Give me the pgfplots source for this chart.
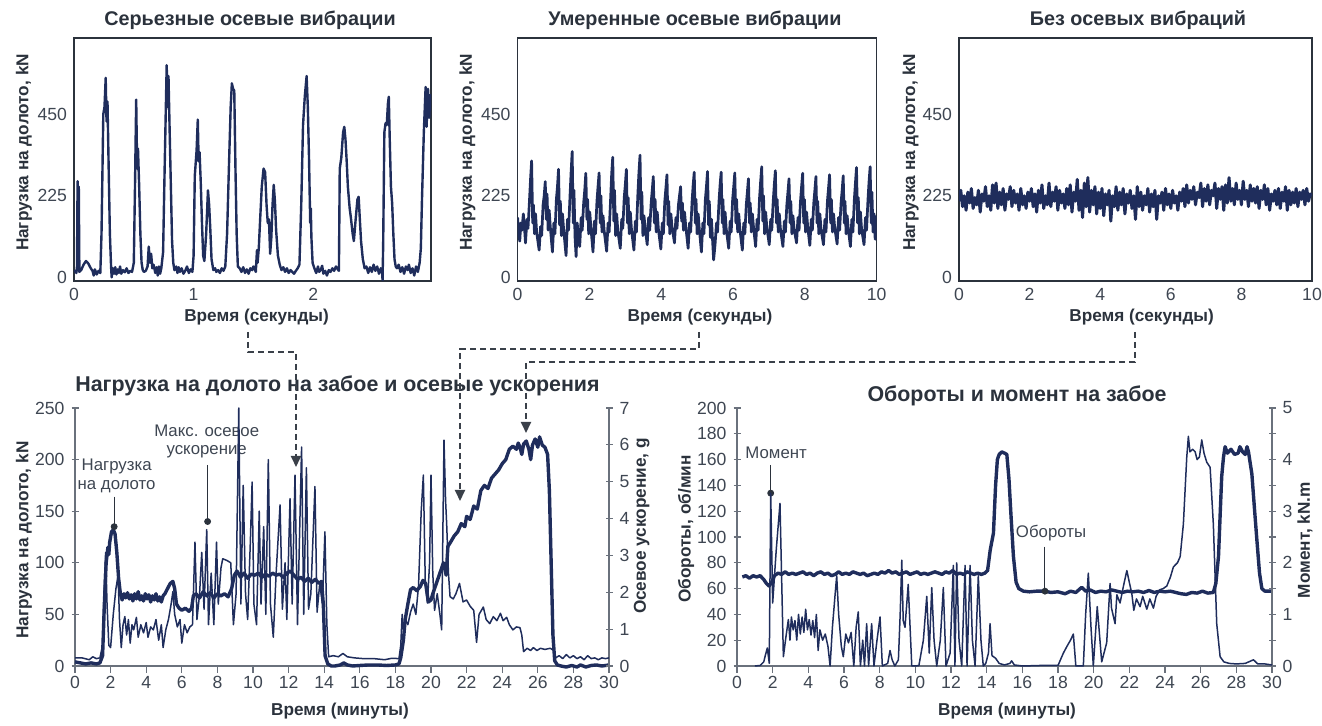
\documentclass[border=0pt]{standalone}
\usepackage{fontspec}
\setmainfont{Liberation Sans}
\usepackage{pgfplots}
\pgfplotsset{compat=1.18}
\usetikzlibrary{arrows.meta}

\definecolor{navy}{HTML}{1F2D5C}
\definecolor{ink}{HTML}{2B323C}
\definecolor{tickc}{HTML}{3E4652}
\definecolor{axg}{HTML}{6A717C}
\definecolor{dashc}{HTML}{3A4049}

\newcommand\tfont{\fontsize{9.9}{10}\selectfont\bfseries}
\newcommand\Tfont{\fontsize{10.7}{11}\selectfont\bfseries}
\newcommand\lfont{\fontsize{8.6}{9}\selectfont\bfseries}
\newcommand\nfont{\fontsize{8.8}{9}\selectfont}
\newcommand\afont{\fontsize{8.4}{9.2}\selectfont}

\pgfplotsset{
  base/.style={scale only axis, anchor=south west,
    /pgf/number format/assume math mode=true,
    tick label style={font=\nfont, text=tickc}},
  top/.style={base, height=121.5pt, ymin=-10, ymax=660, ytick={0,225,450},
    major tick length=0pt, axis line style={draw=ink, line width=0.7pt}},
  bot/.style={base, height=129pt, xmin=0, xmax=30, clip=false,
    axis line style={draw=axg, line width=0.6pt, -},
    tick style={draw=axg, line width=0.6pt}, major tick length=3.5pt, tick align=center},
  topline/.style={navy, line width=1.2pt, line join=round, mark=none},
  thick/.style={navy, line width=1.7pt, line join=round, mark=none},
  thin/.style={navy, line width=0.75pt, line join=round, mark=none},
}

\begin{document}
\begin{tikzpicture}

% ---------- top left: severe axial vibration
\begin{axis}[top, at={(37pt,222.5pt)}, width=178.5pt, xmin=0, xmax=2.985, xtick={0,1,2}]
\addplot[topline] coordinates {(0,15)(0.01,18)(0.02,12)(0.025,30)(0.03,265)(0.035,40)(0.04,250)(0.045,15)(0.06,20)(0.08,35)(0.10,45)(0.12,38)(0.14,25)(0.155,18)(0.165,5)(0.175,22)(0.19,8)(0.205,18)(0.22,12)(0.23,120)(0.245,450)(0.255,470)(0.265,550)(0.272,430)(0.28,485)(0.29,300)(0.30,120)(0.31,30)(0.315,0)(0.325,25)(0.335,10)(0.345,28)(0.355,8)(0.365,22)(0.375,12)(0.385,30)(0.395,10)(0.41,20)(0.425,14)(0.44,25)(0.455,12)(0.47,18)(0.485,15)(0.50,40)(0.51,250)(0.52,490)(0.528,300)(0.535,355)(0.545,250)(0.555,120)(0.565,40)(0.575,20)(0.585,15)(0.60,18)(0.615,30)(0.625,85)(0.635,40)(0.645,65)(0.655,25)(0.665,35)(0.68,12)(0.69,28)(0.70,5)(0.71,30)(0.72,10)(0.73,25)(0.745,70)(0.755,250)(0.765,420)(0.775,585)(0.783,470)(0.79,555)(0.80,400)(0.81,250)(0.82,100)(0.83,40)(0.84,20)(0.855,30)(0.865,12)(0.875,28)(0.885,15)(0.90,25)(0.915,10)(0.93,18)(0.945,30)(0.96,12)(0.975,22)(0.99,15)(1.00,60)(1.01,280)(1.025,350)(1.035,435)(1.042,320)(1.05,345)(1.06,260)(1.07,150)(1.08,60)(1.09,45)(1.105,120)(1.12,240)(1.13,200)(1.14,130)(1.15,50)(1.165,20)(1.18,25)(1.19,15)(1.205,20)(1.22,12)(1.235,25)(1.25,18)(1.265,30)(1.28,120)(1.295,300)(1.31,470)(1.32,535)(1.33,520)(1.34,515)(1.35,300)(1.36,120)(1.37,30)(1.385,25)(1.40,15)(1.415,28)(1.43,12)(1.445,22)(1.46,10)(1.475,25)(1.49,20)(1.50,30)(1.51,25)(1.52,15)(1.53,75)(1.535,40)(1.545,80)(1.555,150)(1.57,250)(1.585,300)(1.598,290)(1.61,200)(1.62,150)(1.63,160)(1.64,65)(1.65,110)(1.66,200)(1.67,255)(1.68,210)(1.69,130)(1.705,60)(1.72,35)(1.735,20)(1.75,28)(1.765,15)(1.78,25)(1.795,12)(1.81,20)(1.825,15)(1.84,10)(1.855,18)(1.87,25)(1.885,35)(1.90,200)(1.915,420)(1.93,500)(1.945,555)(1.955,470)(1.965,330)(1.975,150)(1.98,190)(1.985,110)(1.995,40)(2.01,25)(2.025,12)(2.04,30)(2.05,15)(2.065,22)(2.075,32)(2.085,10)(2.10,18)(2.115,5)(2.13,20)(2.145,15)(2.16,25)(2.175,18)(2.19,30)(2.205,22)(2.215,18)(2.222,300)(2.235,330)(2.25,400)(2.26,415)(2.27,380)(2.28,320)(2.29,250)(2.305,190)(2.315,165)(2.33,120)(2.34,100)(2.355,160)(2.37,215)(2.38,222)(2.39,160)(2.40,100)(2.415,50)(2.43,25)(2.445,30)(2.46,12)(2.475,28)(2.49,15)(2.505,35)(2.52,18)(2.535,30)(2.55,10)(2.565,25)(2.575,20)(2.58,-8)(2.585,90)(2.595,400)(2.605,425)(2.615,420)(2.625,480)(2.632,498)(2.64,380)(2.65,250)(2.66,205)(2.67,120)(2.68,50)(2.69,30)(2.70,25)(2.715,35)(2.73,15)(2.745,28)(2.76,10)(2.775,30)(2.79,20)(2.80,35)(2.815,12)(2.83,25)(2.845,5)(2.86,30)(2.875,15)(2.89,40)(2.90,80)(2.91,220)(2.925,400)(2.94,525)(2.948,415)(2.96,520)(2.97,440)(2.98,505)};
\end{axis}

% ---------- top middle: moderate axial vibration
\begin{axis}[top, at={(258.8pt,222.5pt)}, width=179.5pt, xmin=0, xmax=10, xtick={0,2,...,10}]
\addplot[topline, line width=1.35pt] coordinates {(0,165)(0.03,120)(0.06,100)(0.09,150)(0.12,130)(0.16,175)(0.19,140)(0.22,95)(0.26,160)(0.29,135)(0.33,210)(0.36,270)(0.39,321)(0.42,150)(0.44,200)(0.47,120)(0.50,175)(0.53,125)
(0.60,75)(0.64,140)(0.67,115)(0.71,200)(0.74,225)(0.77,264)(0.80,160)(0.82,230)(0.85,130)(0.88,185)(0.91,140)
(0.97,70)(1.01,150)(1.04,120)(1.08,215)(1.11,250)(1.14,298)(1.17,145)(1.19,210)(1.22,115)(1.25,175)(1.28,135)
(1.35,60)(1.39,160)(1.42,130)(1.46,225)(1.49,290)(1.52,347)(1.55,150)(1.57,240)(1.60,110)(1.63,57)(1.66,150)(1.70,105)
(1.73,85)(1.77,165)(1.80,130)(1.84,205)(1.87,240)(1.90,287)(1.93,160)(1.95,215)(1.98,120)(2.01,180)(2.04,140)
(2.10,70)(2.14,155)(2.17,120)(2.21,210)(2.24,250)(2.27,288)(2.30,150)(2.32,225)(2.35,125)(2.38,170)(2.41,130)
(2.48,72)(2.52,150)(2.55,125)(2.59,215)(2.62,285)(2.65,331)(2.68,155)(2.70,240)(2.73,115)(2.76,175)(2.79,130)
(2.86,80)(2.90,160)(2.93,135)(2.97,220)(3.00,255)(3.03,298)(3.06,150)(3.08,220)(3.11,120)(3.14,180)(3.17,135)
(3.24,75)(3.28,155)(3.31,125)(3.35,230)(3.38,290)(3.41,337)(3.44,160)(3.46,235)(3.49,115)(3.52,170)(3.55,140)
(3.61,90)(3.65,165)(3.68,130)(3.72,205)(3.75,240)(3.78,278)(3.81,150)(3.83,215)(3.86,125)(3.89,180)(3.92,135)
(3.99,78)(4.03,150)(4.06,120)(4.10,210)(4.13,245)(4.16,283)(4.19,145)(4.21,210)(4.24,120)(4.27,175)(4.30,140)
(4.37,95)(4.41,165)(4.44,135)(4.48,200)(4.51,225)(4.54,250)(4.57,155)(4.59,205)(4.62,130)(4.65,180)(4.68,145)
(4.75,80)(4.79,150)(4.82,125)(4.86,210)(4.89,255)(4.92,290)(4.95,150)(4.97,215)(5.00,120)(5.03,175)(5.06,135)
(5.12,70)(5.16,150)(5.19,120)(5.23,215)(5.26,250)(5.29,292)(5.32,145)(5.34,210)(5.37,110)(5.40,160)(5.46,48)
(5.50,90)(5.54,150)(5.57,125)(5.61,210)(5.64,255)(5.67,290)(5.70,150)(5.72,215)(5.75,120)(5.78,180)(5.81,135)
(5.88,80)(5.92,155)(5.95,125)(5.99,215)(6.02,250)(6.05,288)(6.08,150)(6.10,215)(6.13,125)(6.16,175)(6.19,135)
(6.26,75)(6.30,150)(6.33,120)(6.37,200)(6.40,235)(6.43,272)(6.46,150)(6.48,205)(6.51,125)(6.54,175)(6.57,140)
(6.63,85)(6.67,160)(6.70,130)(6.74,220)(6.77,265)(6.80,305)(6.83,155)(6.85,225)(6.88,120)(6.91,180)(6.94,140)
(7.01,90)(7.05,160)(7.08,130)(7.12,210)(7.15,255)(7.18,294)(7.21,150)(7.23,215)(7.26,125)(7.29,175)(7.32,135)
(7.39,85)(7.43,155)(7.46,125)(7.50,200)(7.53,235)(7.56,272)(7.59,150)(7.61,210)(7.64,120)(7.67,170)(7.70,135)
(7.77,95)(7.81,165)(7.84,130)(7.88,210)(7.91,250)(7.94,287)(7.97,150)(7.99,215)(8.02,125)(8.05,180)(8.08,140)
(8.14,88)(8.18,160)(8.21,130)(8.25,205)(8.28,240)(8.31,278)(8.34,150)(8.36,210)(8.39,120)(8.42,175)(8.45,135)
(8.52,90)(8.56,160)(8.59,125)(8.63,210)(8.66,245)(8.69,283)(8.72,150)(8.74,215)(8.77,125)(8.80,175)(8.83,140)
(8.90,92)(8.94,165)(8.97,130)(9.01,205)(9.04,240)(9.07,280)(9.10,150)(9.12,210)(9.15,120)(9.18,170)(9.21,135)
(9.27,85)(9.31,160)(9.34,125)(9.38,215)(9.41,260)(9.44,303)(9.47,150)(9.49,220)(9.52,120)(9.55,180)(9.58,135)
(9.65,90)(9.69,165)(9.72,130)(9.76,215)(9.79,265)(9.82,305)(9.85,150)(9.87,235)(9.90,125)(9.93,175)(9.96,105)(10.0,170)};
\end{axis}

% ---------- top right: no axial vibration
\begin{axis}[top, at={(479.5pt,222.5pt)}, width=176.5pt, xmin=0, xmax=10, xtick={0,2,...,10}]
\addplot[topline, line width=1.5pt] table {
x y
0.00 210
0.05 240
0.10 195
0.15 225
0.20 185
0.25 235
0.30 205
0.35 245
0.40 190
0.45 220
0.50 200
0.55 240
0.60 180
0.65 230
0.70 210
0.75 250
0.80 195
0.85 225
0.90 185
0.95 255
1.00 205
1.05 260
1.10 190
1.15 235
1.20 200
1.25 245
1.30 185
1.35 230
1.40 215
1.45 250
1.50 195
1.55 240
1.60 205
1.65 230
1.70 185
1.75 245
1.80 200
1.85 225
1.90 190
1.95 235
2.00 210
2.05 245
2.10 195
2.15 230
2.20 180
2.25 240
2.30 205
2.35 255
2.40 190
2.45 225
2.50 200
2.55 260
2.60 195
2.65 235
2.70 210
2.75 250
2.80 185
2.85 240
2.90 205
2.95 230
3.00 190
3.05 245
3.10 200
3.15 255
3.20 180
3.25 235
3.30 210
3.35 270
3.40 185
3.45 240
3.50 165
3.55 260
3.60 195
3.65 275
3.70 180
3.75 240
3.80 200
3.85 250
3.90 175
3.95 235
4.00 190
4.05 245
4.10 170
4.15 230
4.20 200
4.25 240
4.30 155
4.35 225
4.40 195
4.45 250
4.50 185
4.55 235
4.60 200
4.65 245
4.70 175
4.75 230
4.80 205
4.85 240
4.90 190
4.95 225
5.00 160
5.05 250
5.10 195
5.15 235
5.20 185
5.25 225
5.30 200
5.35 245
5.40 180
5.45 230
5.50 195
5.55 240
5.60 160
5.65 225
5.70 205
5.75 235
5.80 185
5.85 245
5.90 200
5.95 230
6.00 190
6.05 240
6.10 205
6.15 225
6.20 185
6.25 235
6.30 210
6.35 245
6.40 195
6.45 255
6.50 205
6.55 240
6.60 215
6.65 250
6.70 200
6.75 235
6.80 220
6.85 260
6.90 195
6.95 245
7.00 210
7.05 255
7.10 200
7.15 240
7.20 225
7.25 260
7.30 190
7.35 245
7.40 215
7.45 250
7.50 185
7.55 255
7.60 205
7.65 275
7.70 210
7.75 245
7.80 200
7.85 260
7.90 215
7.95 240
8.00 200
8.05 265
8.10 215
8.15 240
8.20 195
8.25 255
8.30 210
8.35 245
8.40 205
8.45 250
8.50 190
8.55 240
8.60 215
8.65 255
8.70 200
8.75 245
8.80 185
8.85 230
8.90 210
8.95 240
9.00 200
9.05 245
9.10 190
9.15 235
9.20 210
9.25 250
9.30 185
9.35 240
9.40 200
9.45 235
9.50 205
9.55 245
9.60 195
9.65 235
9.70 215
9.75 240
9.80 200
9.85 245
9.90 210
9.95 230
10.00 225
};
\end{axis}

% ---------- bottom left: WOB (left) and axial acceleration (right)
\begin{axis}[bot, at={(37.5pt,30pt)}, width=267pt, ymin=0, ymax=250,
  axis x line*=bottom, axis y line*=left, xtick={0,2,...,30}, ytick={0,50,...,250},
  x tick style={yshift=-1.75pt}]
\addplot[thick] coordinates {(0,4)(0.3,3)(0.6,2)(0.9,3)(1.2,2)(1.4,3)(1.55,10)(1.65,60)(1.75,100)(1.85,115)(1.9,108)(1.95,120)(2.05,130)(2.15,132)(2.25,128)(2.35,110)(2.45,85)(2.55,70)(2.65,64)(2.75,70)(2.85,66)(2.95,71)(3.05,65)(3.15,69)(3.25,63)(3.35,70)(3.45,65)(3.55,72)(3.65,64)(3.75,68)(3.85,63)(3.95,70)(4.05,65)(4.15,69)(4.25,62)(4.35,68)(4.45,64)(4.55,70)(4.65,63)(4.75,67)(4.85,62)(4.95,68)(5.05,70)(5.2,75)(5.35,80)(5.5,82)(5.6,75)(5.7,60)(5.85,56)(6.0,54)(6.2,56)(6.4,53)(6.55,56)(6.65,68)(6.8,70)(7.0,66)(7.2,72)(7.4,68)(7.6,71)(7.8,66)(8.0,70)(8.2,68)(8.4,70)(8.6,67)(8.8,75)(8.95,88)(9.1,92)(9.3,86)(9.5,90)(9.7,85)(9.9,89)(10.1,88)(10.3,90)(10.5,86)(10.7,89)(10.9,87)(11.1,90)(11.3,88)(11.5,89)(11.7,86)(11.9,90)(12.1,92)(12.3,88)(12.5,84)(12.7,86)(12.9,82)(13.1,85)(13.3,81)(13.5,84)(13.7,80)(13.85,82)(13.95,60)(14.05,10)(14.2,2)(14.4,0)(14.6,0)(14.9,1)(15.1,3)(15.3,1)(15.6,0)(16,0.5)(16.5,1)(17,1)(17.5,0.5)(18,1)(18.2,2)(18.3,8)(18.45,25)(18.55,45)(18.7,60)(18.85,74)(19.0,76)(19.2,73)(19.4,77)(19.55,83)(19.7,80)(19.85,62)(20.0,64)(20.1,70)(20.3,80)(20.5,90)(20.7,100)(20.85,88)(20.95,116)(21.1,120)(21.3,126)(21.5,130)(21.7,138)(21.9,135)(22.0,145)(22.2,142)(22.4,155)(22.6,152)(22.8,170)(23.0,175)(23.2,172)(23.4,182)(23.6,186)(23.8,190)(24.0,196)(24.2,200)(24.4,210)(24.6,213)(24.8,210)(24.9,216)(25.0,212)(25.1,205)(25.2,215)(25.35,218)(25.5,210)(25.6,200)(25.7,214)(25.85,220)(26.0,212)(26.1,222)(26.25,214)(26.4,212)(26.55,205)(26.65,170)(26.75,100)(26.85,30)(26.95,5)(27.1,1)(27.3,0)(27.6,-1)(27.9,0.5)(28.2,-1)(28.4,1)(28.7,-1)(29.0,0.5)(29.3,1)(29.6,0)(30,1)};
\addplot[only marks, mark=*, mark size=1.5pt, ink] coordinates {(2.2,135)(7.45,140)};
\draw[ink, line width=0.5pt] (axis cs:2.2,164) -- (axis cs:2.2,136);
\draw[ink, line width=0.5pt] (axis cs:7.45,195) -- (axis cs:7.45,141);
\node[font=\afont, text=tickc, align=center] at (axis cs:2.34,184.3) {Нагрузка\\на долото};
\node[font=\afont, text=tickc, align=center] at (axis cs:7.4,217.3) {Макс. осевое\\ускорение};
\end{axis}
\begin{axis}[bot, at={(37.5pt,30pt)}, width=267pt, ymin=0, ymax=7,
  axis x line=none, axis y line*=right, ytick={0,1,...,7}]
\addplot[thin] coordinates {(0,0.22)(0.4,0.22)(0.8,0.17)(1.0,0.25)(1.2,0.2)(1.4,0.22)(1.55,0.56)(1.65,2.24)(1.72,3.08)(1.8,1.68)(1.9,0.56)(2.0,0.5)(2.15,1.4)(2.3,2.1)(2.42,2.46)(2.5,1.26)(2.6,0.5)(2.7,1.12)(2.8,1.34)(2.9,0.84)(3.0,1.26)(3.1,0.62)(3.2,1.12)(3.3,0.98)(3.45,1.32)(3.55,0.78)(3.7,1.12)(3.85,0.9)(4.0,1.18)(4.1,0.78)(4.25,1.06)(4.4,0.98)(4.55,1.26)(4.7,0.7)(4.85,1.12)(4.95,0.5)(5.1,0.98)(5.25,1.26)(5.4,1.68)(5.5,2.02)(5.6,1.4)(5.75,1.06)(5.9,1.26)(6.0,0.62)(6.15,1.12)(6.3,0.9)(6.45,1.06)(6.6,1.12)(6.74,3.36)(6.85,1.26)(7.0,1.96)(7.12,3.08)(7.25,1.54)(7.4,3.7)(7.5,1.12)(7.65,2.52)(7.8,1.12)(7.95,3.36)(8.05,1.68)(8.2,2.66)(8.3,2.91)(8.55,2.86)(8.75,2.8)(8.9,1.12)(9.05,1.96)(9.2,7.0)(9.32,1.68)(9.45,4.9)(9.58,1.96)(9.7,1.26)(9.85,3.36)(9.95,4.99)(10.05,1.68)(10.2,1.12)(10.35,4.2)(10.45,1.68)(10.6,3.78)(10.72,1.4)(10.86,5.6)(10.98,1.68)(11.14,0.78)(11.3,2.52)(11.52,4.37)(11.65,1.54)(11.8,2.8)(11.9,1.26)(12.08,4.54)(12.2,1.68)(12.36,5.18)(12.5,1.12)(12.73,5.94)(12.85,1.4)(13.0,5.38)(13.12,1.54)(13.25,1.96)(13.48,4.87)(13.6,1.46)(13.75,2.24)(13.9,1.68)(14.04,3.64)(14.15,1.12)(14.25,0.25)(14.5,0.28)(14.8,0.25)(15.05,0.34)(15.3,0.25)(15.7,0.22)(16.2,0.2)(16.8,0.2)(17.4,0.17)(17.8,0.21)(18.2,0.2)(18.3,0.56)(18.38,1.4)(18.45,0.98)(18.55,1.26)(18.7,1.12)(18.85,1.46)(19.0,1.68)(19.15,1.4)(19.3,2.18)(19.45,4.2)(19.57,5.18)(19.68,2.24)(19.8,1.71)(19.92,2.8)(20.0,5.18)(20.1,2.52)(20.2,1.51)(20.35,1.96)(20.5,1.4)(20.6,0.98)(20.73,6.13)(20.82,4.48)(20.88,3.86)(20.98,2.52)(21.07,1.88)(21.25,1.82)(21.4,1.96)(21.6,2.24)(21.8,1.74)(22.0,1.79)(22.2,1.62)(22.4,1.51)(22.56,0.64)(22.7,1.4)(22.94,1.6)(23.1,1.26)(23.3,1.15)(23.5,1.34)(23.7,1.23)(23.9,1.43)(24.05,1.23)(24.25,1.32)(24.4,1.12)(24.6,0.98)(24.8,1.06)(25.0,1.04)(25.1,0.84)(25.2,0.39)(25.4,0.48)(25.6,0.42)(25.75,0.5)(25.95,0.42)(26.15,0.48)(26.4,0.45)(26.7,0.48)(26.9,0.42)(27.0,0.22)(27.2,0.28)(27.4,0.2)(27.6,0.31)(27.8,0.22)(28.0,0.28)(28.2,0.2)(28.4,0.25)(28.6,0.17)(28.8,0.28)(29.0,0.2)(29.2,0.22)(29.4,0.17)(29.6,0.22)(29.8,0.2)(30,0.22)};
\end{axis}

% ---------- bottom right: RPM (left) and torque (right)
\begin{axis}[bot, at={(368.5pt,30pt)}, width=267.5pt, ymin=0, ymax=200,
  axis x line*=bottom, axis y line*=left, xtick={0,2,...,30}, ytick={0,20,...,200},
  x tick style={yshift=-1.75pt}]
\addplot[thick] coordinates {(0.3,69)(0.5,70)(0.7,68)(0.9,70)(1.1,69)(1.3,70)(1.5,67)(1.65,64)(1.8,62)(1.95,65)(2.1,70)(2.3,72)(2.5,71)(2.7,73)(2.9,71)(3.1,72)(3.3,71)(3.5,72)(3.7,73)(3.9,71)(4.1,72)(4.3,70)(4.5,72)(4.7,73)(4.9,71)(5.1,72)(5.3,70)(5.5,71)(5.7,73)(5.9,71)(6.1,72)(6.3,71)(6.5,73)(6.7,72)(6.9,71)(7.1,72)(7.3,70)(7.5,71)(7.7,72)(7.9,71)(8.1,73)(8.3,72)(8.5,74)(8.7,72)(8.9,73)(9.1,71)(9.3,72)(9.5,73)(9.7,71)(9.9,72)(10.1,73)(10.3,71)(10.5,72)(10.7,71)(10.9,72)(11.1,73)(11.3,72)(11.5,71)(11.7,73)(11.9,72)(12.1,74)(12.3,71)(12.5,72)(12.7,71)(12.9,73)(13.1,72)(13.3,71)(13.5,72)(13.7,71)(13.9,72)(14.05,74)(14.2,90)(14.38,103)(14.5,140)(14.6,160)(14.7,164)(14.85,166)(15.0,165)(15.13,164)(15.25,145)(15.35,120)(15.5,85)(15.65,65)(15.8,60)(16.06,58)(16.4,57.5)(16.8,58)(17.27,58)(17.6,57)(18.0,57.5)(18.4,56)(18.7,58)(19.0,57)(19.33,61)(19.55,58)(19.8,59)(20.1,57)(20.4,58)(20.7,57.5)(21.0,59)(21.3,58)(21.6,57)(21.9,58)(22.2,57.5)(22.5,58)(22.8,57)(23.1,58.5)(23.4,57)(23.7,58)(24.0,57.5)(24.3,58)(24.6,57)(24.9,56)(25.2,55.5)(25.5,57)(25.8,56.5)(26.1,58)(26.4,56.5)(26.71,57)(26.85,64)(27.0,85)(27.1,120)(27.18,147)(27.28,162)(27.37,170)(27.5,165)(27.7,168)(27.9,164)(28.1,165)(28.2,170)(28.35,166)(28.5,164)(28.6,170)(28.68,166)(28.87,149)(29.0,125)(29.15,98)(29.3,72)(29.43,60)(29.6,58)(29.8,58)(30.0,58)};
\addplot[only marks, mark=*, mark size=1.5pt, ink] coordinates {(1.89,134)(17.27,58)};
\draw[ink, line width=0.5pt] (axis cs:1.89,156) -- (axis cs:1.89,135);
\draw[ink, line width=0.5pt] (axis cs:17.27,92.5) -- (axis cs:17.27,59);
\node[font=\afont, text=tickc, anchor=west, inner sep=0pt] at (axis cs:0.45,164.9) {Момент};
\node[font=\afont, text=tickc] at (axis cs:17.61,102.9) {Обороты};
\end{axis}
\begin{axis}[bot, at={(368.5pt,30pt)}, width=267.5pt, ymin=0, ymax=5,
  axis x line=none, axis y line*=right, ytick={0,1,...,5}, extra y ticks={0.5,1.5,2.5,3.5,4.5},
  extra y tick labels={}]
\addplot[thin] coordinates {(1.0,0)(1.3,0.01)(1.5,0.08)(1.57,0.18)(1.7,0.35)(1.81,0.05)(1.89,3.35)(2.0,1.22)(2.2,2.25)(2.41,3.15)(2.6,0.18)(2.75,0.58)(2.88,0.9)(2.97,0.5)(3.05,0.95)(3.15,0.7)(3.25,0.88)(3.35,0.5)(3.45,1.0)(3.55,0.62)(3.65,0.95)(3.75,0.65)(3.85,1.1)(3.95,0.7)(4.05,0.9)(4.15,0.6)(4.25,0.88)(4.35,0.55)(4.45,1.0)(4.55,0.3)(4.65,0.7)(4.8,0.5)(4.95,0.62)(5.1,0.38)(5.22,0)(5.35,0.75)(5.5,1.38)(5.59,1.75)(5.7,1.0)(5.85,0.38)(5.96,0.18)(6.1,0.62)(6.25,0.45)(6.4,0.65)(6.55,0)(6.68,0.75)(6.8,1.05)(6.92,0)(7.05,0.5)(7.15,0)(7.27,0.82)(7.38,0)(7.55,0.82)(7.68,0)(7.85,0.5)(8.02,0.95)(8.15,0)(8.45,0.05)(8.58,0.3)(8.7,0.12)(8.85,0)(9.05,0.12)(9.15,1.0)(9.24,2.05)(9.32,0.88)(9.42,0.75)(9.6,1.58)(9.8,0)(10.0,0)(10.2,0.01)(10.45,0.5)(10.64,1.35)(10.78,0.25)(10.92,1.52)(11.05,0.5)(11.2,0)(11.4,0.5)(11.57,1.52)(11.72,0)(11.95,0.25)(12.13,1.95)(12.22,0)(12.32,2.0)(12.45,0.5)(12.6,0)(12.79,1.95)(12.9,0)(13.07,1.95)(13.2,0.5)(13.35,0)(13.53,1.75)(13.68,0.5)(13.81,0)(13.95,0.05)(14.1,0.25)(14.19,0.82)(14.3,0.2)(14.5,0.15)(14.7,0.05)(15.0,0.02)(15.3,0.05)(15.4,0.1)(15.55,0.02)(16.0,0)(17.0,0.01)(18.0,0.01)(18.3,0.25)(18.5,0.38)(18.7,0.5)(18.86,0.62)(19.0,0)(19.42,0)(19.55,1.0)(19.7,1.8)(19.85,0.75)(19.98,0)(20.2,1.15)(20.45,0.08)(20.73,0.45)(20.92,1.6)(21.0,1.12)(21.2,0.82)(21.3,1.38)(21.48,1.22)(21.67,1.55)(21.86,1.85)(22.0,1.62)(22.14,1.4)(22.25,1.08)(22.4,1.3)(22.6,1.15)(22.75,1.35)(22.98,1.1)(23.15,1.3)(23.35,1.12)(23.5,1.35)(23.72,1.48)(23.9,1.5)(24.1,1.55)(24.3,1.72)(24.47,1.92)(24.7,2.0)(24.85,2.12)(25.03,2.75)(25.22,4.05)(25.31,4.45)(25.4,4.15)(25.55,4.2)(25.69,4.15)(25.8,4.0)(25.93,4.05)(26.06,4.38)(26.19,4.12)(26.34,3.95)(26.53,3.85)(26.71,2.75)(26.9,0.82)(27.09,0.18)(27.3,0.08)(27.6,0.05)(28.0,0.04)(28.5,0.05)(28.96,0.12)(29.2,0.04)(29.6,0.04)(30.0,0.02)};
\end{axis}

% ---------- titles and axis labels
\node[font=\tfont, text=ink] at (125pt,353pt) {Серьезные осевые вибрации};
\node[font=\tfont, text=ink] at (347.5pt,353pt) {Умеренные осевые вибрации};
\node[font=\tfont, text=ink] at (569pt,353pt) {Без осевых вибраций};
\node[font=\Tfont, text=ink] at (168.75pt,170pt) {Нагрузка на долото на забое и осевые ускорения};
\node[font=\Tfont, text=ink] at (508.5pt,165pt) {Обороты и момент на забое};

\node[font=\lfont, text=ink, rotate=90] at (12pt,286.75pt) {Нагрузка на долото, kN};
\node[font=\lfont, text=ink, rotate=90] at (233.75pt,286.75pt) {Нагрузка на долото, kN};
\node[font=\lfont, text=ink, rotate=90] at (455.3pt,286.75pt) {Нагрузка на долото, kN};
\node[font=\lfont, text=ink] at (128.3pt,204.7pt) {Время (секунды)};
\node[font=\lfont, text=ink] at (350pt,204.7pt) {Время (секунды)};
\node[font=\lfont, text=ink] at (570.8pt,204.7pt) {Время (секунды)};

\node[font=\lfont, text=ink, rotate=90] at (12pt,93pt) {Нагрузка на долото, kN};
\node[font=\lfont, text=ink, rotate=90] at (320.8pt,100pt) {Осевое ускорение, g};
\node[font=\lfont, text=ink, rotate=90] at (343pt,98.5pt) {Обороты, об/мин};
\node[font=\lfont, text=ink, rotate=90] at (652.5pt,93pt) {Момент, kN.m};
\node[font=\lfont, text=ink] at (170pt,7.5pt) {Время (минуты)};
\node[font=\lfont, text=ink] at (503.5pt,7.5pt) {Время (минуты)};

% ---------- dashed connectors
\begin{scope}[dashc, line width=1pt, dash pattern=on 3.2pt off 1.8pt, -{Triangle[length=5.5pt,width=5pt]}]
\draw (124pt,197pt) -- (124pt,187pt) -- (148pt,187pt) -- (148pt,129.5pt);
\draw (349.5pt,197pt) -- (349.5pt,188.5pt) -- (230pt,188.5pt) -- (230pt,112.5pt);
\draw (567.5pt,197pt) -- (567.5pt,182pt) -- (263pt,182pt) -- (263pt,146.5pt);
\end{scope}

\pgfresetboundingbox
\useasboundingbox (0pt,0pt) rectangle (661pt,363pt);
\end{tikzpicture}
\end{document}
